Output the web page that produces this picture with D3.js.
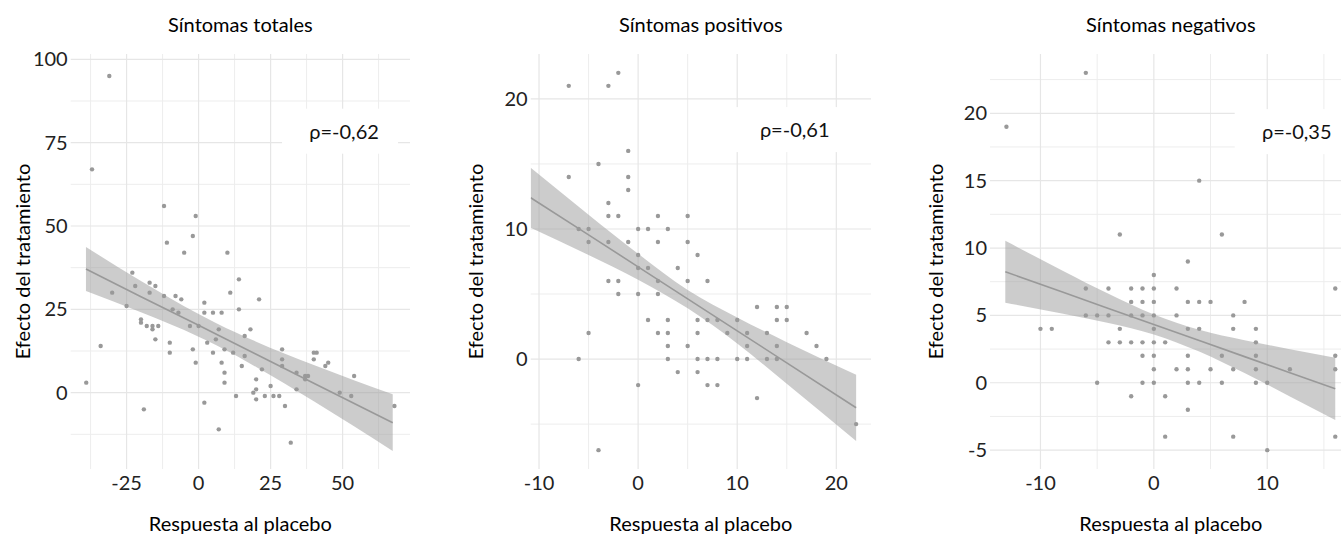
<!DOCTYPE html>
<html>
<head>
<meta charset="utf-8">
<script src="https://cdn.jsdelivr.net/npm/d3@7"></script>
<style>
  body { margin: 0; background: #fff; }
  svg { font-family: Lato, "Open Sans", sans-serif; }
</style>
</head>
<body>
<svg id="chart" width="1341" height="543"></svg>
<script>
// ---- data ----
var titles = ["Síntomas totales", "Síntomas positivos", "Síntomas negativos"];
var rhoLabels = ["ρ=-0,62", "ρ=-0,61", "ρ=-0,35"];
var xTitle = "Respuesta al placebo";
var yTitle = "Efecto del tratamiento";

// síntomas totales
var totX = [-31,-37,-12,-1,-2,-11,-5,-39,-34,-30,-23,-22,-25,-17,-15,-17,-12,-8,-6,-9,-7,-20,-20,-18,-16,-16,-14,-15,-10,-10,-3,0,-2,-1,2,2,5,8,7,6,3,5,8,2,-19,7,10,14,11,21,14,18,16,9,12,16,9,9,15,22,29,29,29,20,20,19,20,23,25,26,28,13,30,32,34,34,37,37,38,40,41,40,44,45,54,49,53,68];
var totY = [95,67,56,53,47,45,42,3,14,30,36,32,26,33,32,30,29,29,28,25,24,22,21,20,20,19,20,16,15,12,20,20,13,9,27,24,24,24,19,16,15,12,9,-3,-5,-11,42,34,30,28,25,19,17,13,12,11,6,3,8,7,13,10,8,4,1,0,-2,-1,2,-1,-1,-1,-4,-15,6,1,4,5,5,12,12,10,8,9,5,0,-1,-4];
var totBandX = [-39.1, -20, 0, 6, 20, 40, 67.4];
var totFit = [37.1, 28.8, 20.2, 17.6, 11.5, 2.8, -9.0];
var totLo = [30.5, 24.1, 16.8, 14.3, 7.7, -2.6, -17.5];
var totHi = [43.7, 33.5, 23.6, 20.9, 15.3, 8.3, -0.5];

// síntomas positivos
var posX = [-7,-3,-2,-1,-4,-7,-1,-1,-3,-3,-2,2,-6,-5,0,1,5,3,-5,-3,-1,2,0,0,1,2,-3,-2,-2,0,2,1,2,-5,-6,0,-4,5,6,4,5,7,3,6,7,8,10,12,14,15,14,15,3,6,9,11,13,17,3,5,11,14,18,3,6,7,8,10,11,13,14,19,4,6,7,8,12,22];
var posY = [21,21,22,16,15,14,14,13,12,11,11,11,10,10,10,10,11,10,9,9,9,9,8,7,7,6,6,6,5,5,5,3,2,2,0,-2,-7,9,8,7,6,6,3,3,3,3,3,4,4,4,3,3,2,2,2,2,2,2,1,1,1,1,1,0,0,0,0,0,0,0,0,0,-1,-1,-2,-2,-3,-5];
var posBandX = [-10.84, -5, 0, 5, 10, 15, 22];
var posFit = [12.4, 9.55, 7.09, 4.63, 2.17, -0.29, -3.74];
var posLo = [10.1, 8.0, 6.1, 3.9, 1.2, -1.9, -6.3];
var posHi = [14.7, 11.1, 8.1, 5.3, 3.2, 1.3, -1.2];

// síntomas negativos
var negX = [-13,-6,-3,4,6,-10,-9,-6,-6,-5,-4,-4,-3,-4,-3,-2,-2,-2,-2,-5,-2,3,0,-1,0,2,16,-1,0,3,4,5,8,-1,0,2,7,0,3,4,7,9,-1,0,1,9,-1,0,3,6,9,16,0,2,3,5,7,9,12,16,-1,0,3,4,6,9,10,1,3,1,7,16,10];
var negY = [19,23,11,15,11,4,4,7,5,5,7,5,4,3,3,3,7,6,5,0,-1,9,8,7,7,7,7,6,6,6,6,6,6,5,5,5,5,4,4,4,4,4,3,3,3,3,2,2,2,2,2,2,1,1,1,1,1,1,1,1,0,0,0,0,0,0,0,-1,-2,-4,-4,-4,-5];
var negBandX = [-13.1, -8, -4, 0, 4, 8, 12, 16];
var negFit = [8.24, 6.72, 5.52, 4.33, 3.13, 1.94, 0.74, -0.45];
var negLo = [5.94, 5.13, 4.44, 3.59, 2.32, 0.72, -1.01, -2.76];
var negHi = [10.54, 8.30, 6.60, 5.07, 3.94, 3.16, 2.49, 1.86];

// axis breaks
var totXTicks = [-25, 0, 25, 50], totYTicks = [0, 25, 50, 75, 100];
var posXTicks = [-10, 0, 10, 20], posYTicks = [0, 10, 20];
var negXTicks = [-10, 0, 10], negYTicks = [-5, 0, 5, 10, 15, 20];

// ---- layout ----
var panelTop = 54, panelBottom = 469;
var panels = [
  { left: 70.7, right: 410, xDom: [-44.4, 73.4], yDom: [-22.9, 101.6], titleOff: 40.7,
    xs: totX, ys: totY, bx: totBandX, fit: totFit, lo: totLo, hi: totHi,
    xt: totXTicks, yt: totYTicks, labX: 50.5, labY: 78.3 },
  { left: 530.7, right: 871, xDom: [-10.84, 23.5], yDom: [-8.45, 23.45], titleOff: 48,
    xs: posX, ys: posY, bx: posBandX, fit: posFit, lo: posLo, hi: posHi,
    xt: posXTicks, yt: posYTicks, labX: 15.8, labY: 17.6 },
  { left: 990, right: 1351.7, xDom: [-14.45, 17.45], yDom: [-6.4, 24.4], titleOff: 46.7,
    xs: negX, ys: negY, bx: negBandX, fit: negFit, lo: negLo, hi: negHi,
    xt: negXTicks, yt: negYTicks, labX: 12.6, labY: 18.6 }
];

var svg = d3.select("#chart");

function minorOf(ticks, dom) {
  var step = ticks[1] - ticks[0], out = [];
  for (var v = ticks[0] - step / 2; v <= dom[1]; v += step) {
    if (v >= dom[0]) out.push(v);
  }
  return out;
}

panels.forEach(function(p, i) {
  var x = d3.scaleLinear().domain(p.xDom).range([p.left, p.right]);
  var y = d3.scaleLinear().domain(p.yDom).range([panelBottom, panelTop]);
  var g = svg.append("g");

  g.append("clipPath").attr("id", "clip" + i)
    .append("rect").attr("x", p.left).attr("y", panelTop)
    .attr("width", p.right - p.left).attr("height", panelBottom - panelTop);

  // grid
  var grid = g.append("g");
  grid.selectAll(".vmin").data(minorOf(p.xt, p.xDom)).enter().append("line")
    .attr("x1", x).attr("x2", x).attr("y1", panelTop).attr("y2", panelBottom)
    .attr("stroke", "#ededed").attr("stroke-width", 1);
  grid.selectAll(".hmin").data(minorOf(p.yt, p.yDom)).enter().append("line")
    .attr("y1", y).attr("y2", y).attr("x1", p.left).attr("x2", p.right)
    .attr("stroke", "#ededed").attr("stroke-width", 1);
  grid.selectAll(".vmaj").data(p.xt).enter().append("line")
    .attr("x1", x).attr("x2", x).attr("y1", panelTop).attr("y2", panelBottom)
    .attr("stroke", "#e6e6e6").attr("stroke-width", 1.2);
  grid.selectAll(".hmaj").data(p.yt).enter().append("line")
    .attr("y1", y).attr("y2", y).attr("x1", p.left).attr("x2", p.right)
    .attr("stroke", "#e6e6e6").attr("stroke-width", 1.2);

  var plot = g.append("g").attr("clip-path", "url(#clip" + i + ")");

  // points
  plot.selectAll("circle").data(p.xs).enter().append("circle")
    .attr("cx", function(d) { return x(d); })
    .attr("cy", function(d, j) { return y(p.ys[j]); })
    .attr("r", 2.2)
    .attr("fill", "#999");

  // smooth band + line
  var band = p.bx.map(function(v, j) { return { x: v, lo: p.lo[j], hi: p.hi[j], fit: p.fit[j] }; });
  plot.append("path").datum(band)
    .attr("d", d3.area().curve(d3.curveMonotoneX)
      .x(function(d) { return x(d.x); })
      .y0(function(d) { return y(d.lo); })
      .y1(function(d) { return y(d.hi); }))
    .attr("fill", "#999").attr("fill-opacity", 0.5);
  plot.append("path").datum(band)
    .attr("d", d3.line().x(function(d) { return x(d.x); }).y(function(d) { return y(d.fit); }))
    .attr("fill", "none").attr("stroke", "#999").attr("stroke-width", 1.6);

  // rho label
  var lx = x(p.labX), ly = y(p.labY);
  g.append("rect").attr("x", lx - 62).attr("y", ly - 23)
    .attr("width", 116).attr("height", 45).attr("fill", "#fff");
  g.append("text").attr("x", lx).attr("y", ly + 7)
    .attr("text-anchor", "middle").attr("font-size", 20).attr("fill", "#111")
    .text(rhoLabels[i]);

  // tick labels
  g.selectAll(".xl").data(p.xt).enter().append("text")
    .attr("x", x).attr("y", panelBottom + 21)
    .attr("text-anchor", "middle").attr("font-size", 20).attr("fill", "#222")
    .text(function(d) { return d; });
  g.selectAll(".yl").data(p.yt).enter().append("text")
    .attr("x", p.left - 3).attr("y", function(d) { return y(d) + 7; })
    .attr("text-anchor", "end").attr("font-size", 20).attr("fill", "#222")
    .text(function(d) { return d; });

  // titles
  var cx = (p.left + p.right) / 2;
  g.append("text").attr("x", cx).attr("y", 32)
    .attr("text-anchor", "middle").attr("font-size", 20).attr("fill", "#000")
    .text(titles[i]);
  g.append("text").attr("x", cx).attr("y", 531)
    .attr("text-anchor", "middle").attr("font-size", 20).attr("fill", "#000")
    .text(xTitle);
  g.append("text")
    .attr("transform", "translate(" + (p.left - p.titleOff) + "," + ((panelTop + panelBottom) / 2) + ") rotate(-90)")
    .attr("text-anchor", "middle").attr("font-size", 20).attr("fill", "#000")
    .text(yTitle);
});
</script>
</body>
</html>
